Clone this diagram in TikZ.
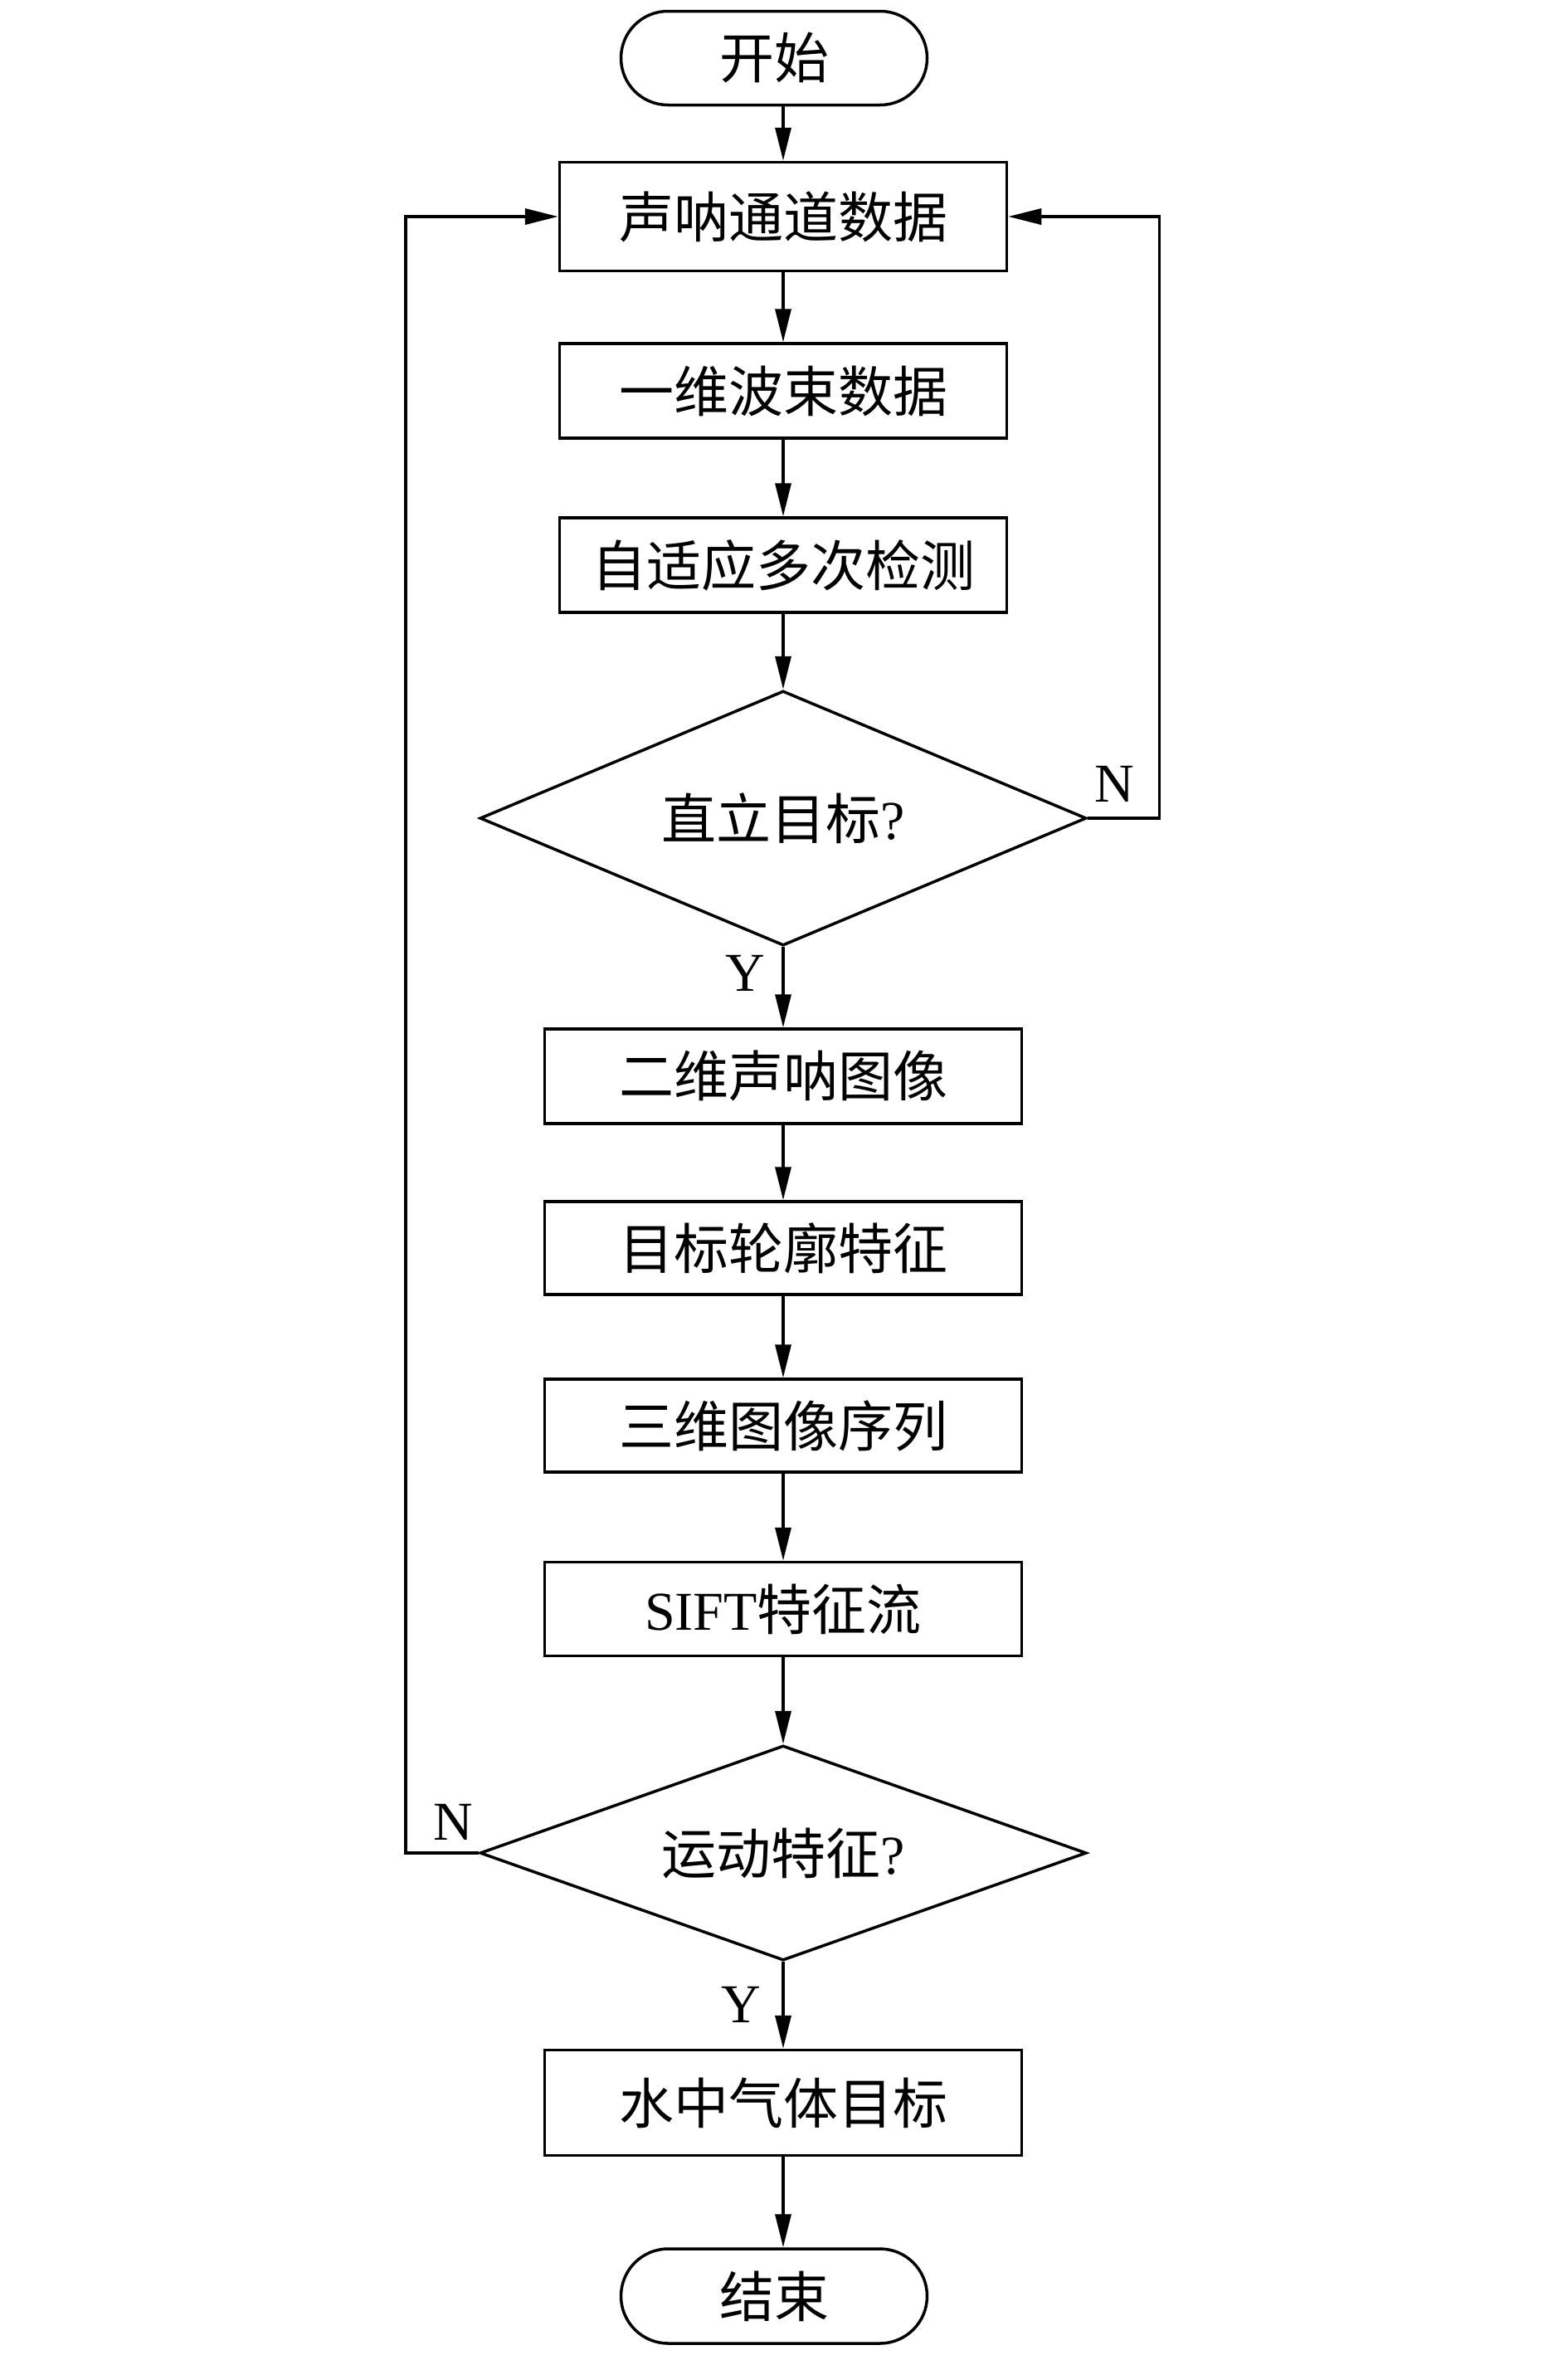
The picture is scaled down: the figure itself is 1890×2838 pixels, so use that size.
\documentclass[tikz,border=0pt]{standalone}
\usepackage{fontspec}
\setmainfont{Liberation Serif}
\newfontfamily\cjk{Noto Sans CJK SC}
\usetikzlibrary{shapes.geometric,shapes.misc,arrows.meta}
\begin{document}
\begin{tikzpicture}[x=1pt,y=-1pt,
  every node/.style={font=\fontsize{66}{72}\selectfont\cjk},
  proc/.style={draw,line width=3.5pt,rectangle,minimum width=#1,inner sep=0pt},
  proc/.default=539pt,
  term/.style={draw,line width=3.5pt,rounded rectangle,minimum width=369pt,minimum height=113pt,inner sep=0pt},
  dec/.style={draw,line width=3.5pt,diamond,aspect=2.38,minimum width=731pt,minimum height=307pt,inner sep=0pt},
  arr/.style={line width=3.5pt,-{Triangle[length=40pt,width=19pt]}},
  lab/.style={font=\fontsize{66}{70}\selectfont\rmfamily}
]
\useasboundingbox (0,0) rectangle (1890,2838);
\node[term] (start) at (933,70) {开始};
\node[proc,minimum height=131pt] (b1) at (944,261) {声呐通道数据};
\node[proc,minimum height=114pt] (b2) at (944,471) {一维波束数据};
\node[proc,minimum height=114pt] (b3) at (944,681) {自适应多次检测};
\node[dec] (d1) at (944,986) {直立目标{\rmfamily ?}};
\node[proc=575pt,minimum height=114pt] (b4) at (944,1297) {二维声呐图像};
\node[proc=575pt,minimum height=112pt] (b5) at (944,1504) {目标轮廓特征};
\node[proc=575pt,minimum height=112pt] (b6) at (944,1718) {三维图像序列};
\node[proc=575pt,minimum height=113pt] (b7) at (944,1939) {{\rmfamily SIFT}特征流};
\node[dec,minimum height=259pt,aspect=2.82] (d2) at (944,2233) {运动特征{\rmfamily ?}};
\node[proc=575pt,minimum height=127pt] (b8) at (944,2534) {水中气体目标};
\node[term,minimum height=114pt] (end) at (933,2767) {结束};

\draw[arr] (b1.north |- start.south) -- (b1.north);
\draw[arr] (b1) -- (b2);
\draw[arr] (b2) -- (b3);
\draw[arr] (b3) -- (d1.north);
\draw[arr] (d1.south) -- (b4.north);
\draw[arr] (b4) -- (b5);
\draw[arr] (b5) -- (b6);
\draw[arr] (b6) -- (b7);
\draw[arr] (b7) -- (d2.north);
\draw[arr] (d2.south) -- (b8.north);
\draw[arr] (b8.south) -- (b8.south |- end.north);
\draw[arr] (d1.east) -- ++(86,0) |- (b1.east);
\draw[arr] (d2.west) -- ++(-88,0) |- (b1.west);

\node[lab] (n1) at (1343,945) {N};
\node[lab] (y1) at (898,1173) {Y};
\node[lab] (n2) at (546,2196) {N};
\node[lab] (y2) at (893,2416) {Y};
\end{tikzpicture}
\end{document}
